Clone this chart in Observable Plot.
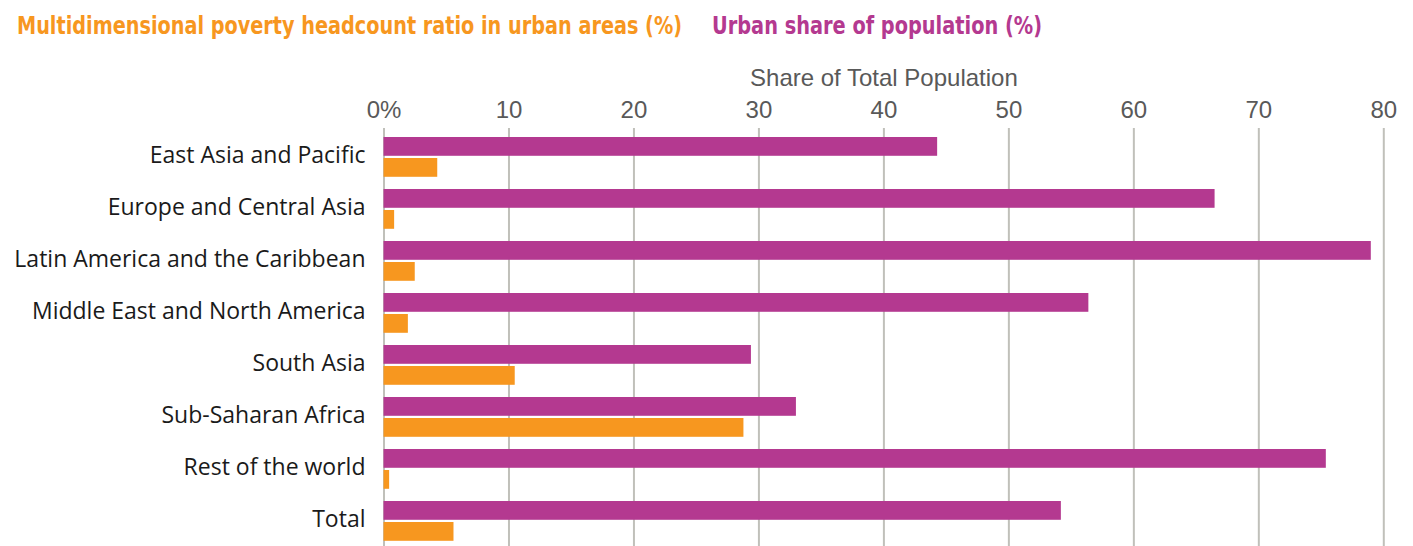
<!DOCTYPE html>
<html>
<head>
<meta charset="utf-8">
<script src="https://cdn.jsdelivr.net/npm/d3@7"></script>
<script src="https://cdn.jsdelivr.net/npm/@observablehq/plot@0.6"></script>
<style>
  html, body { margin: 0; padding: 0; background: #fff; }
  #legend { position: relative; height: 47px; width: 1413px;
    font-family: "DejaVu Sans Condensed", "DejaVu Sans", sans-serif;
    font-weight: bold; font-size: 24px; line-height: 28px; }
  #legend span { position: absolute; top: 12px; white-space: nowrap; transform-origin: 0 50%; display: inline-block; }
  #chart svg { display: block; }
</style>
</head>
<body>
<div id="legend">
  <span id="l1" style="left:17px;color:#F7971F">Multidimensional poverty headcount ratio in urban areas (%)</span>
  <span id="l2" style="left:712px;color:#B43990">Urban share of population (%)</span>
</div>
<div id="chart"></div>
<script>
const categories = [
  "East Asia and Pacific",
  "Europe and Central Asia",
  "Latin America and the Caribbean",
  "Middle East and North America",
  "South Asia",
  "Sub-Saharan Africa",
  "Rest of the world",
  "Total"
];
const urbanShare = [44.3, 66.5, 79.0, 56.4, 29.4, 33.0, 75.4, 54.2];
const povertyRatio = [4.3, 0.85, 2.5, 1.95, 10.5, 28.8, 0.45, 5.6];
const xTicks = [0, 10, 20, 30, 40, 50, 60, 70, 80];
const xTickLabels = ["0%", "10", "20", "30", "40", "50", "60", "70", "80"];
const axisTitle = "Share of Total Population";

// fit the legend entries to the reference widths
[["l1", 665], ["l2", 330]].forEach(([id, w]) => {
  const el = document.getElementById(id);
  const cw = el.getBoundingClientRect().width;
  el.style.transform = `scaleX(${w / cw})`;
});

const urbanData = categories.map((c, i) => ({category: c, value: urbanShare[i]}));
const povData = categories.map((c, i) => ({category: c, value: povertyRatio[i]}));

const chartH = 499;
const frameTop = 81;
const step = 52.71;
const chart = Plot.plot({
  width: 1413,
  height: chartH,
  marginLeft: 383.5,
  marginRight: 29.7,
  marginTop: frameTop,
  marginBottom: 0,
  style: {fontFamily: "'Liberation Sans', Arial, sans-serif", background: "#fff"},
  x: {domain: [0, 80]},
  y: {domain: categories, range: [frameTop, frameTop + step * categories.length], padding: 0},
  marks: [
    Plot.gridX(xTicks, {stroke: "#C0C0BA", strokeWidth: 2, strokeOpacity: 1}),
    Plot.axisX(xTicks, {
      anchor: "top", tickSize: 0, tickPadding: 11, label: null,
      tickFormat: (d) => xTickLabels[xTicks.indexOf(d)],
      fontSize: 24, fill: "#595959"
    }),
    Plot.text([axisTitle], {frameAnchor: "top", dy: -43, lineAnchor: "bottom", fontSize: 24, fill: "#595959", text: d => d}),
    Plot.axisY({anchor: "left", tickSize: 0, tickPadding: 18.5, label: null, fontSize: 23, dy: -1.5, fill: "#1a1a1a", fontFamily: "'Open Sans', sans-serif"}),
    Plot.barX(urbanData, {x: "value", y: "category", fill: "#B43990", insetTop: 6, insetBottom: step - 25.5}),
    Plot.barX(povData, {x: "value", y: "category", fill: "#F7971F", insetTop: 27, insetBottom: step - 46.5})
  ]
});
document.getElementById("chart").appendChild(chart);
</script>
</body>
</html>
